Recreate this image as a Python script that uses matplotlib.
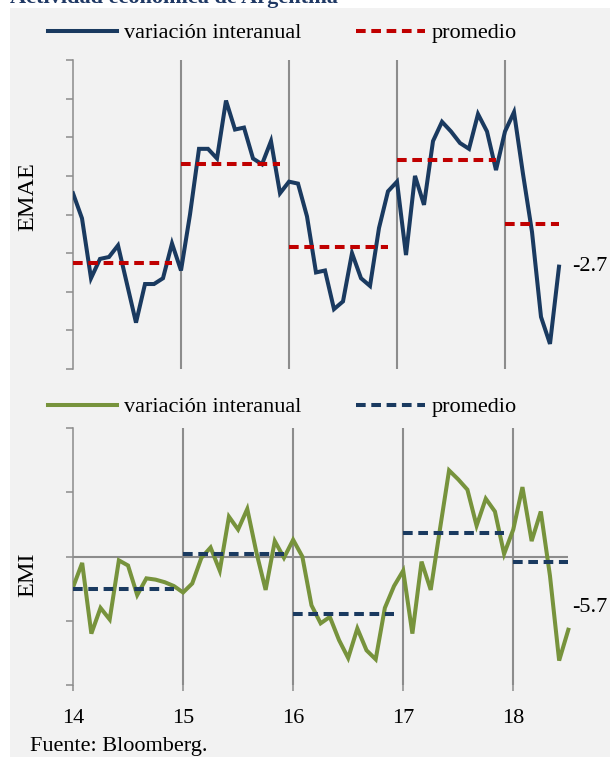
import matplotlib
matplotlib.use("Agg")
import matplotlib.pyplot as plt
from matplotlib.patches import Rectangle
import numpy as np

# variacion interanual mensual, ene-2014 a jul-2018
emae = [1.1, -0.2, -3.3, -2.3, -2.2, -1.6, -3.6, -5.6, -3.6, -3.6, -3.3, -1.5,
        -2.9, 0.0, 3.4, 3.4, 2.9, 5.9, 4.4, 4.5, 2.9, 2.6, 3.8, 1.1,
        1.7, 1.6, -0.1, -3.0, -2.9, -4.9, -4.5, -2.0, -3.3, -3.7, -0.7, 1.2,
        1.7, -2.1, 2.0, 0.5, 3.8, 4.8, 4.3, 3.7, 3.4, 5.2, 4.3, 2.3,
        4.3, 5.3, 2.1, -0.9, -5.3, -6.7, -2.7]
emi = [-2.4, -0.5, -6.0, -4.0, -4.9, -0.3, -0.7, -3.0, -1.7, -1.8, -2.0, -2.3,
       -2.8, -2.1, -0.1, 0.7, -1.1, 3.1, 2.1, 3.7, 0.3, -2.6, 1.2, -0.1,
       1.3, 0.0, -3.8, -5.2, -4.7, -6.5, -7.9, -5.6, -7.3, -8.0, -4.0, -2.3,
       -1.1, -6.0, -0.4, -2.6, 2.1, 6.7, 6.0, 5.2, 2.4, 4.5, 3.5, 0.2,
       2.1, 5.4, 1.2, 3.5, -1.5, -8.1, -5.7]

# promedio de cada año
emae_avg = [-2.5, 2.6, -1.7, 2.8, -0.5]
emi_avg = [-2.5, 0.2, -4.5, 1.8, -0.4]
years = ["14", "15", "16", "17", "18"]

navy = "#1a3a60"
red = "#c00000"
green = "#77933c"
grey = "#8c8c8c"

plt.rcParams["font.family"] = ["Liberation Serif", "DejaVu Serif"]
plt.rcParams["font.size"] = 16

W, H = 610, 757
fig = plt.figure(figsize=(W / 100, H / 100), dpi=100, facecolor="white")
fig.patches.append(Rectangle((10 / W, 0), 1, 1 - 8 / H, transform=fig.transFigure,
                             facecolor="#f2f2f2", edgecolor="none", zorder=-10))
fig.text(10 / W, 1 - 3 / H, "Actividad económica de Argentina", fontsize=16,
         fontweight="bold", color="#1f3864", ha="left", va="baseline")


def panel(rect, data, avg, ylim, yticks, line_col, avg_col, name, name_y,
          label_off, legend_y, bottom):
    l, t, w, h = rect
    ax = fig.add_axes([l / W, 1 - (t + h) / H, w / W, h / H])
    ax.set_facecolor("none")
    x = np.arange(len(data))
    starts = list(range(0, len(data), 12))

    ax.vlines(starts[1:], ylim[0], ylim[1], color=grey, lw=1.5, zorder=1)
    if bottom:
        ax.hlines(0, 0, len(data) - 1, color=grey, lw=1.5, zorder=1)

    ax.plot(x, data, color=line_col, lw=2.9, solid_joinstyle="miter",
            label="variación interanual", zorder=3)
    for i, (s, v) in enumerate(zip(starts, avg)):
        e = min(s + 11, len(data) - 1)
        ax.plot([s, e], [v, v], color=avg_col, lw=2.9, dashes=(2.4, 1.4),
                label="promedio" if i == 0 else None, zorder=4)

    ax.annotate(f"{data[-1]:.1f}", xy=(x[-1], data[-1]), xytext=label_off,
                textcoords="offset pixels", ha="left", va="center", fontsize=16)

    ax.set_xlim(0, 58)
    ax.set_ylim(*ylim)
    ax.set_yticks(yticks)
    ax.set_yticklabels([])
    ax.tick_params(axis="y", length=5, width=1.1, color=grey)
    for side in ["top", "right", "bottom"]:
        ax.spines[side].set_visible(False)
    ax.spines["left"].set_color(grey)
    ax.spines["left"].set_linewidth(1.1)
    if bottom:
        ax.set_xticks(starts)
        ax.set_xticklabels(years)
        ax.tick_params(axis="x", length=4, width=1.1, color=grey, pad=13)
    else:
        ax.set_xticks([])

    fig.text(28 / W, 1 - name_y / H, name, rotation=90, ha="center",
             va="center", fontsize=17.5)

    ax.legend(loc="center left", bbox_to_anchor=(48 / W, 1 - legend_y / H),
              bbox_transform=fig.transFigure, ncol=2, frameon=False,
              borderpad=0, borderaxespad=0, handlelength=3.1,
              handletextpad=0.3, columnspacing=2.5, fontsize=16)
    return ax


panel((73, 60, 522, 309), emae, emae_avg, (-8, 8), np.arange(-8, 9, 2),
      navy, red, "EMAE", 197, (13, 0), 33, False)
panel((73, 428, 532, 257), emi, emi_avg, (-10, 10), np.arange(-10, 11, 5),
      green, navy, "EMI", 575, (4, 22), 407, True)

fig.text(30 / W, 1 - 746 / H, "Fuente: Bloomberg.", ha="left", va="center",
         fontsize=16)

fig.savefig("out.png", dpi=100, facecolor=fig.get_facecolor())
